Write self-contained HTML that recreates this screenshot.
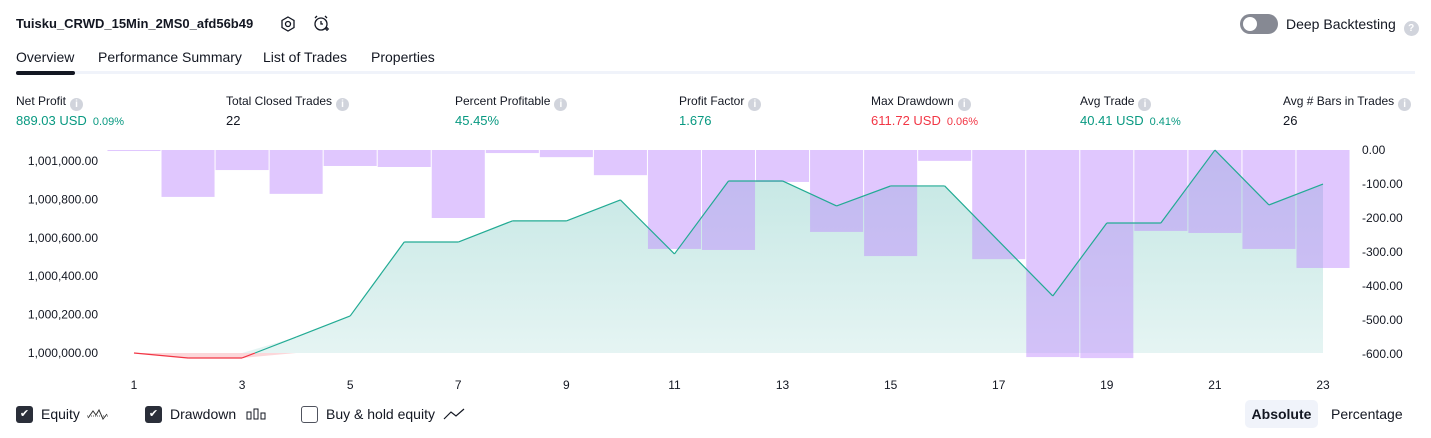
<!DOCTYPE html>
<html><head><meta charset="utf-8"><style>
body{margin:0;width:1431px;height:438px;background:#fff;font-family:"Liberation Sans",sans-serif;color:#131722;position:relative;overflow:hidden}
.abs{position:absolute;white-space:nowrap}
.title{left:16px;top:16px;font-size:13px;font-weight:bold}
.tab{top:49px;font-size:14px}
.sh{font-size:12px;top:94px}
.sv{font-size:13px;top:113px}
.info{display:inline-block;width:13px;height:13px;border-radius:50%;background:#d1d4dc;vertical-align:-2px;margin-left:4px;color:#fff;font-size:10px;text-align:center;line-height:13px;font-weight:bold}
.g{color:#089981}.r{color:#f23645}.sm{font-size:11px;margin-left:6px}
.leg{display:flex;align-items:center;font-size:14px;height:20px}
.cb{display:inline-block;width:17px;height:17px;border-radius:3px;margin-right:8px;box-sizing:border-box}
</style></head><body>
<div class="abs title">Tuisku_CRWD_15Min_2MS0_afd56b49</div>
<svg class="abs" style="left:279px;top:15px" width="18" height="18"><polygon points="9,2 15,5.5 15,12.5 9,16 3,12.5 3,5.5" fill="none" stroke="#131722" stroke-width="1.3"/><circle cx="9" cy="9" r="2.5" fill="none" stroke="#131722" stroke-width="1.3"/></svg>
<svg class="abs" style="left:312px;top:14px" width="18" height="20"><circle cx="9" cy="10" r="6" fill="none" stroke="#131722" stroke-width="1.3"/><path d="M9 7v3h2M3 4l2-2M15 4l-2-2M13 15h4M15 13v4" stroke="#131722" stroke-width="1.3" fill="none"/></svg>
<div class="abs" style="left:1240px;top:14px;width:38px;height:20px;border-radius:10px;background:#868993"><div style="position:absolute;left:3px;top:3px;width:14px;height:14px;border-radius:50%;background:#fff"></div></div>
<div class="abs" style="left:1286px;top:16px;font-size:14px">Deep Backtesting <span class="info" style="width:15px;height:15px;line-height:15px">?</span></div>
<div class="abs tab" style="left:16px">Overview</div>
<div class="abs tab" style="left:98px">Performance Summary</div>
<div class="abs tab" style="left:263px">List of Trades</div>
<div class="abs tab" style="left:371px">Properties</div>
<div class="abs" style="left:16px;top:71px;width:1399px;height:3px;background:#f0f3fa"></div>
<div class="abs" style="left:16px;top:71px;width:59px;height:4px;border-radius:2px;background:#131722"></div>

<div class="abs sh" style="left:16px">Net Profit<span class="info">i</span></div>
<div class="abs sv g" style="left:16px">889.03 USD<span class="sm">0.09%</span></div>
<div class="abs sh" style="left:226px">Total Closed Trades<span class="info">i</span></div>
<div class="abs sv" style="left:226px">22</div>
<div class="abs sh" style="left:455px">Percent Profitable<span class="info">i</span></div>
<div class="abs sv g" style="left:455px">45.45%</div>
<div class="abs sh" style="left:679px">Profit Factor<span class="info">i</span></div>
<div class="abs sv g" style="left:679px">1.676</div>
<div class="abs sh" style="left:871px">Max Drawdown<span class="info">i</span></div>
<div class="abs sv r" style="left:871px">611.72 USD<span class="sm">0.06%</span></div>
<div class="abs sh" style="left:1080px">Avg Trade<span class="info">i</span></div>
<div class="abs sv g" style="left:1080px">40.41 USD<span class="sm">0.41%</span></div>
<div class="abs sh" style="left:1283px">Avg # Bars in Trades<span class="info">i</span></div>
<div class="abs sv" style="left:1283px">26</div>

<svg id="chart" class="abs" style="left:0;top:0" width="1431" height="400">
<defs><linearGradient id="ag" x1="0" y1="0" x2="0" y2="1"><stop offset="0" stop-color="#26a69a" stop-opacity="0.28"/><stop offset="1" stop-color="#26a69a" stop-opacity="0.12"/></linearGradient></defs>
</svg>

<div class="abs leg" style="left:16px;top:404px"><span class="cb" style="background:#2a2e39;color:#fff;font-size:11px;text-align:center;line-height:17px">✔</span>Equity <svg width="24" height="14" style="margin-left:6px"><path d="M1 9H23" stroke="#555" stroke-dasharray="1,1"/><path d="M2 11L7 4L10 8L13 3L17 12L21 7" fill="none" stroke="#333"/></svg></div>
<div class="abs leg" style="left:145px;top:404px"><span class="cb" style="background:#2a2e39;color:#fff;font-size:11px;text-align:center;line-height:17px">✔</span>Drawdown <svg width="20" height="12" style="margin-left:10px"><rect x="1" y="4" width="4" height="7" fill="none" stroke="#131722"/><rect x="8" y="1" width="4" height="10" fill="none" stroke="#131722"/><rect x="15" y="5" width="4" height="6" fill="none" stroke="#131722"/></svg></div>
<div class="abs leg" style="left:301px;top:404px"><span class="cb" style="border:1.5px solid #50535e"></span>Buy &amp; hold equity <svg width="22" height="12" style="margin-left:8px"><path d="M1 11L8 4L13 8L21 1" fill="none" stroke="#131722" stroke-width="1.2"/></svg></div>
<div class="abs" style="left:1245px;top:400px;width:73px;height:28px;border-radius:5px;background:#f0f3fa;font-size:14px;font-weight:bold;text-align:center;line-height:28px">Absolute</div>
<div class="abs" style="left:1331px;top:406px;font-size:14px">Percentage</div>

<script>
const trades=[1,2,3,4,5,6,7,8,9,10,11,12,13,14,15,16,17,18,19,20,21,22,23];
const equity=[0,-26,-26,83,193,578,578,688,688,797,516,896,896,766,870,870,583,297,677,677,1057,771,880];
const drawdown=[-3,-138,-59,-129,-47,-50,-200,-9,-21,-74,-291,-294,-94,-241,-312,-32,-321,-609,-612,-238,-244,-291,-347];
const leftTicks=[1000000,1000200,1000400,1000600,1000800,1001000];
const rightTicks=[0,-100,-200,-300,-400,-500,-600];
const xTicks=[1,3,5,7,9,11,13,15,17,19,21,23];
const BASE=1000000;
const svg=document.getElementById('chart');const NS='http://www.w3.org/2000/svg';
const X=t=>134+(t-1)*(1323-134)/22;
const YL=v=>353-(v-BASE)*0.192;
const YR=v=>150-v*0.34;
function mk(tag,attrs){const e=document.createElementNS(NS,tag);for(const k in attrs)e.setAttribute(k,attrs[k]);svg.appendChild(e);return e;}
const step=X(2)-X(1);
const y0=YL(BASE);
let d='M'+X(1)+','+y0;
equity.forEach((v,i)=>{d+='L'+X(trades[i])+','+Math.min(YL(BASE+v),y0);});
d+='L'+X(trades[trades.length-1])+','+y0+'Z';
let a=mk('path',{d:d,fill:'url(#ag)'});


let dn='M'+X(1)+','+y0;
equity.forEach((v,i)=>{dn+='L'+X(trades[i])+','+Math.max(YL(BASE+v),y0);});
dn+='L'+X(trades[trades.length-1])+','+y0+'Z';
let an=mk('path',{d:dn,fill:'rgba(242,54,69,0.2)'});


drawdown.forEach((v,i)=>{
 const r=mk('rect',{x:X(trades[i])-step/2+0.5,y:YR(0),width:step-1,height:Math.max(1,YR(v)-YR(0)),fill:'rgba(190,135,252,0.47)'});
 
 
});
for(let i=0;i<equity.length-1;i++){
 const x1=X(trades[i]),x2=X(trades[i+1]),v1=equity[i],v2=equity[i+1];
 const segs=[];
 if((v1<0)!==(v2<0)&&v1!==v2){const f=(0-v1)/(v2-v1);const xm=x1+(x2-x1)*f;segs.push([x1,v1,xm,0,v1<0]);segs.push([xm,0,x2,v2,v2<0]);}
 else segs.push([x1,v1,x2,v2,v1<0||v2<0]);
 segs.forEach(s=>{
  const l=mk('line',{x1:s[0],y1:YL(BASE+s[1]),x2:s[2],y2:YL(BASE+s[3]),stroke:s[4]?'#f23645':'#22ab94','stroke-width':1.2});
  
  
 });
}
leftTicks.forEach(v=>{
 const t=mk('text',{x:98,y:YL(v)+4,'text-anchor':'end','font-size':12,fill:'#131722','font-family':'Liberation Sans, sans-serif'});
 t.textContent=v.toLocaleString('en-US',{minimumFractionDigits:2});
 
 
});
rightTicks.forEach(v=>{
 const t=mk('text',{x:1362,y:YR(v)+4,'font-size':12,fill:'#131722','font-family':'Liberation Sans, sans-serif'});
 t.textContent=v.toFixed(2);
 
 
});
xTicks.forEach(v=>{
 const t=mk('text',{x:X(v),y:389,'text-anchor':'middle','font-size':12,fill:'#131722','font-family':'Liberation Sans, sans-serif'});
 t.textContent=v;
 
 
});
</script>
</body></html>
